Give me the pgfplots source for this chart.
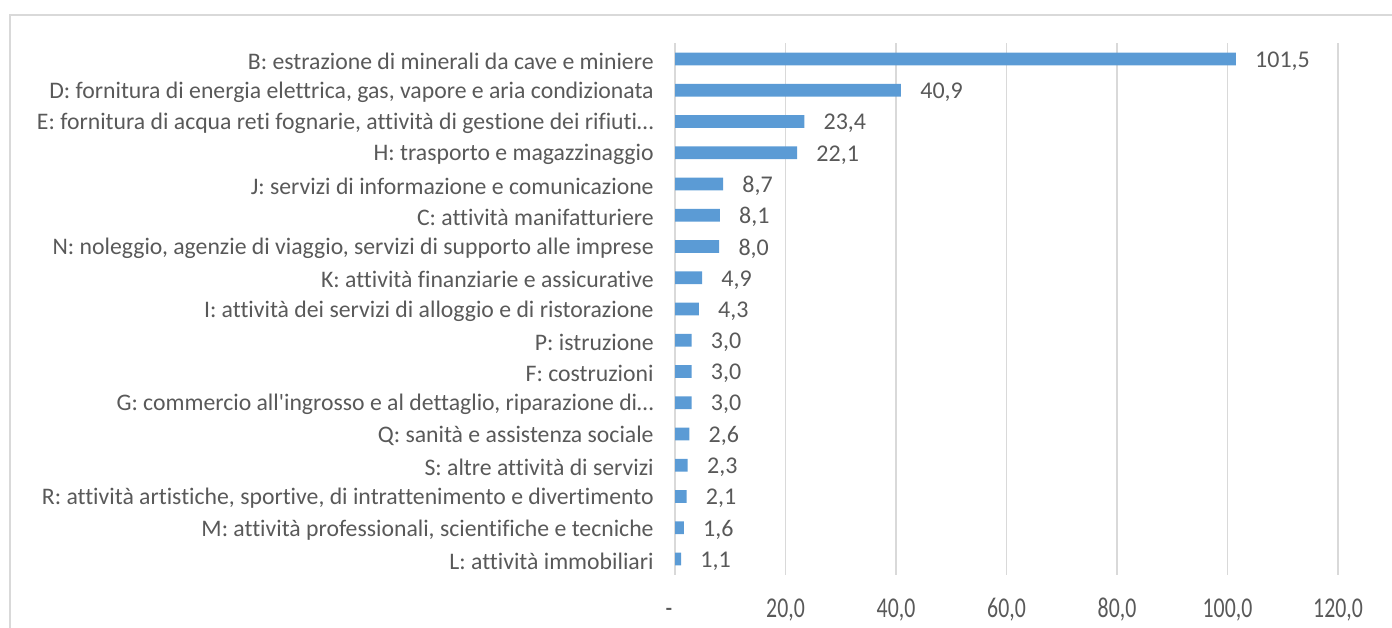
\documentclass[border=0pt]{standalone}
\usepackage{pgfplots}
\pgfplotsset{compat=1.18}
\usepackage{graphicx}
\usepackage{fontspec}
\setmainfont{Carlito}[Ligatures=CommonOff]
\usepackage{textcomp}

\definecolor{barblue}{HTML}{5B9BD5}
\definecolor{txtgray}{HTML}{595959}
\definecolor{gridgray}{HTML}{D9D9D9}

% x tick numbers are narrow and tall in the reference
\newcommand{\tl}[1]{\scalebox{0.76}[1]{#1}}

\begin{document}
\begin{tikzpicture}
% picture is 1392 x 628 px, 1px = 0.75pt, origin bottom-left
\useasboundingbox (0pt,0pt) rectangle (1044pt,471pt);
\draw[gridgray, line width=1.5pt] (7.5pt,0pt) -- (7.5pt,459.75pt) -- (1044pt,459.75pt);

\begin{axis}[
    at={(506.25pt,40.05pt)}, anchor=south west,
    scale only axis,
    width=497.25pt, height=398.4pt,
    xbar, bar width=9.5pt,
    y dir=reverse,
    xmin=0, xmax=120,
    ymin=-0.5, ymax=16.5,
    axis line style={draw=none},
    major tick length=0pt,
    xtick={0,20,...,120},
    xticklabels={{\makebox[14pt][l]{\tl{-}}},{\tl{20,0}},{\tl{40,0}},{\tl{60,0}},{\tl{80,0}},{\tl{100,0}},{\tl{120,0}}},
    xmajorgrids,
    grid style={gridgray, line width=0.9pt},
    ytick={0,...,16},
    yticklabels={
      {B: estrazione di minerali da cave e miniere},
      {D: fornitura di energia elettrica, gas, vapore e aria condizionata},
      {E: fornitura di acqua reti fognarie, attività di gestione dei rifiuti…},
      {H: trasporto e magazzinaggio},
      {J: servizi di informazione e comunicazione},
      {C: attività manifatturiere},
      {N: noleggio, agenzie di viaggio, servizi di supporto alle imprese},
      {K: attività finanziarie e assicurative},
      {I: attività dei servizi di alloggio e di ristorazione},
      {P: istruzione},
      {F: costruzioni},
      {G: commercio all\textquotesingle ingrosso e al dettaglio, riparazione di…},
      {Q: sanità e assistenza sociale},
      {S: altre attività di servizi},
      {R: attività artistiche, sportive, di intrattenimento e divertimento},
      {M: attività professionali, scientifiche e tecniche},
      {L: attività immobiliari}},
    yticklabel style={font=\fontsize{17.8}{20}\selectfont, text=txtgray, anchor=east, xshift=-12.5pt, yshift=-1.5pt},
    xticklabel style={font=\fontsize{21.5}{24}\selectfont, text=txtgray, anchor=base, yshift=-32pt},
    /pgf/number format/assume math mode=true,
    nodes near coords,
    nodes near coords align={horizontal},
    every node near coord/.append style={font=\fontsize{18}{20}\selectfont, text=txtgray, xshift=11pt, yshift=-1.5pt,
      /pgf/number format/.cd, fixed, fixed zerofill, precision=1, use comma},
    clip=false,
]
\addplot[fill=barblue, draw=none] coordinates {
    (101.5,0) (40.9,1) (23.4,2) (22.1,3) (8.7,4) (8.1,5) (8.0,6) (4.9,7) (4.3,8)
    (3.0,9) (3.0,10) (3.0,11) (2.6,12) (2.3,13) (2.1,14) (1.6,15) (1.1,16)
};
\end{axis}
\end{tikzpicture}
\end{document}
